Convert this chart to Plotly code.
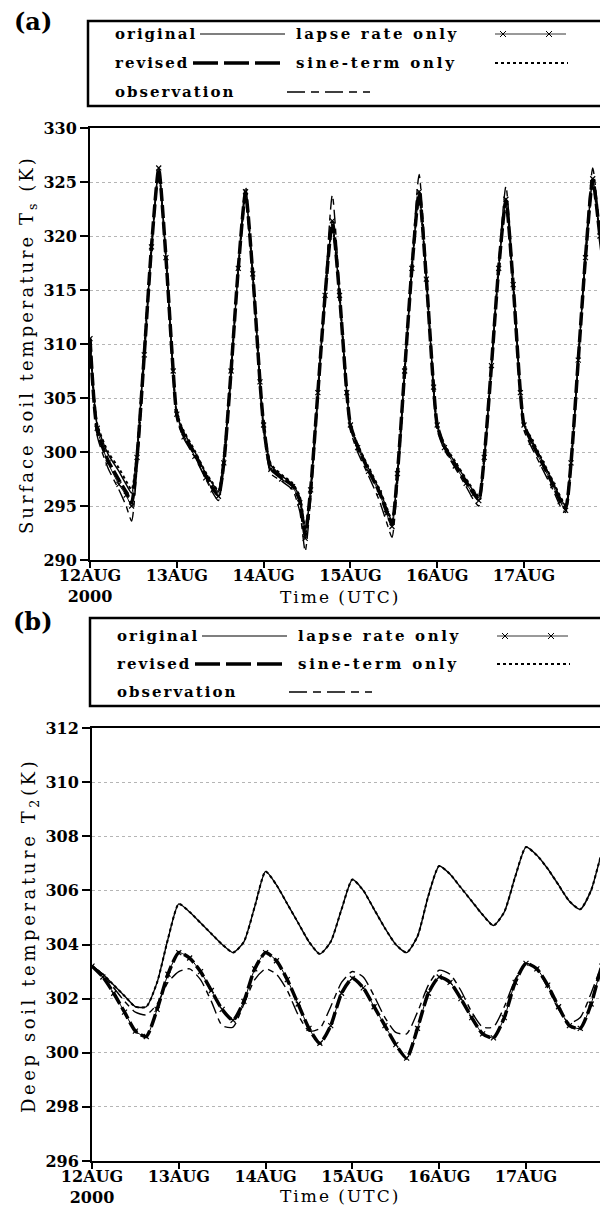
import plotly.graph_objects as go

W, H = 608, 1206
OFF = 8  # page offset of the figure (default body margin)
def px(x): return (x - OFF) / W
def py(y): return 1 - (y - OFF) / H

# ---------------- Panel (a): surface soil temperature (hours since 12AUG2000 00UTC)
hours_a = [0, 2, 5, 8, 10, 11.5, 13, 15, 17, 19, 21, 23,
           24, 26, 29, 32, 34, 35.5, 37, 39, 41, 43, 45, 47,
           48, 50, 53, 56, 58, 59.5, 61, 63, 65, 67, 69, 71,
           72, 74, 77, 80, 82, 83.5, 85, 87, 89, 91, 93, 95,
           96, 98, 101, 104, 106, 107.5, 109, 111, 113, 115, 117, 119,
           120, 122, 125, 128, 130, 131.5, 133, 135, 137, 139, 141, 143,
           146]

ts_original = [310.5, 302.5, 299.8, 298.2, 297.0, 296.2, 300.0, 309.5, 319.0, 326.0, 318.0, 307.5,
               303.5, 301.8, 300.0, 298.0, 297.0, 296.3, 299.5, 307.5, 317.0, 323.6, 316.5, 306.5,
               302.5, 298.8, 297.8, 297.0, 295.8, 292.8, 296.5, 305.5, 314.5, 321.0, 314.5, 305.5,
               302.5, 300.6, 298.5, 296.5, 294.8, 293.6, 298.0, 307.5, 317.0, 323.8, 316.0, 306.0,
               302.5, 300.6, 299.0, 297.4, 296.4, 295.8, 299.5, 308.0, 317.0, 323.0, 315.5, 305.5,
               302.5, 301.2, 299.2, 297.2, 295.8, 295.0, 299.0, 308.5, 318.0, 325.0, 320.0, 314.5,
               306.0]
ts_revised = [310.5, 302.0, 299.2, 297.4, 296.3, 295.3, 299.5, 309.0, 319.0, 326.2, 318.0, 307.5,
              303.5, 301.5, 299.8, 297.8, 296.6, 296.0, 299.0, 307.5, 317.0, 324.0, 316.5, 306.5,
              302.5, 298.5, 297.6, 296.9, 295.5, 292.3, 296.5, 305.5, 314.5, 321.3, 314.5, 305.5,
              302.5, 300.5, 298.3, 296.3, 294.5, 293.3, 298.0, 307.5, 317.0, 324.0, 316.0, 306.0,
              302.5, 300.5, 298.8, 297.2, 296.2, 295.6, 299.5, 308.0, 317.0, 323.3, 315.5, 305.5,
              302.5, 301.0, 299.0, 297.0, 295.5, 294.8, 299.0, 308.5, 318.0, 325.2, 320.0, 314.5,
              306.0]
ts_lapse = [310.5, 302.2, 299.0, 297.0, 296.0, 295.0, 299.5, 309.0, 319.0, 326.3, 318.0, 307.5,
            303.5, 301.4, 299.6, 297.6, 296.5, 295.9, 299.0, 307.5, 317.0, 324.1, 316.5, 306.5,
            302.5, 298.4, 297.5, 296.8, 295.3, 292.0, 296.5, 305.5, 314.5, 321.4, 314.5, 305.5,
            302.5, 300.4, 298.2, 296.2, 294.3, 293.1, 298.0, 307.5, 317.0, 324.1, 316.0, 306.0,
            302.5, 300.4, 298.7, 297.1, 296.1, 295.5, 299.5, 308.0, 317.0, 323.4, 315.5, 305.5,
            302.5, 300.9, 298.9, 296.9, 295.4, 294.6, 299.0, 308.5, 318.0, 325.3, 320.0, 314.5,
            306.0]
ts_sine = [310.5, 302.6, 300.0, 298.5, 297.3, 296.5, 300.0, 309.5, 319.0, 325.9, 318.0, 307.5,
           303.5, 301.9, 300.1, 298.1, 297.1, 296.4, 299.5, 307.5, 317.0, 323.5, 316.5, 306.5,
           302.5, 298.9, 297.9, 297.1, 295.9, 293.0, 296.5, 305.5, 314.5, 320.9, 314.5, 305.5,
           302.5, 300.7, 298.6, 296.6, 294.9, 293.7, 298.0, 307.5, 317.0, 323.7, 316.0, 306.0,
           302.5, 300.7, 299.1, 297.5, 296.5, 295.9, 299.5, 308.0, 317.0, 322.9, 315.5, 305.5,
           302.5, 301.3, 299.3, 297.3, 295.9, 295.1, 299.0, 308.5, 318.0, 324.9, 320.0, 314.5,
           306.0]
ts_obs = [310.0, 301.5, 298.5, 296.5, 295.0, 293.6, 298.5, 308.5, 318.5, 326.3, 318.0, 307.0,
          303.0, 301.2, 299.5, 297.5, 296.2, 295.5, 298.5, 307.0, 317.0, 324.6, 316.5, 306.0,
          302.0, 298.0, 297.3, 296.5, 294.5, 290.8, 295.5, 305.0, 315.0, 323.8, 315.0, 305.0,
          302.0, 300.0, 297.8, 295.5, 293.5, 292.1, 297.0, 307.0, 317.5, 325.7, 316.5, 305.5,
          302.0, 300.2, 298.5, 296.8, 295.6, 295.0, 299.0, 308.0, 317.5, 324.6, 316.0, 305.5,
          302.0, 300.5, 298.5, 296.5, 295.0, 294.4, 298.5, 308.5, 318.5, 326.3, 320.5, 314.5,
          306.0]

# ---------------- Panel (b): deep soil temperature
hours_b = [0, 3, 6, 9, 12, 15, 18, 21,
           24, 27, 30, 33, 36, 39, 42, 45,
           48, 51, 54, 57, 60, 63, 66, 69,
           72, 75, 78, 81, 84, 87, 90, 93,
           96, 99, 102, 105, 108, 111, 114, 117,
           120, 123, 126, 129, 132, 135, 138, 141, 144, 146]

t2_original = [303.2, 302.9, 302.5, 302.1, 301.7, 301.7, 302.6, 304.2,
               305.5, 305.2, 304.8, 304.4, 304.0, 303.7, 304.1, 305.4,
               306.7, 306.2, 305.5, 304.8, 304.1, 303.65, 304.1, 305.3,
               306.4, 306.0, 305.3, 304.6, 304.0, 303.7, 304.3, 305.8,
               306.9, 306.6, 306.1, 305.6, 305.1, 304.7, 305.2, 306.5,
               307.6, 307.3, 306.8, 306.2, 305.6, 305.3, 306.0, 307.4, 308.3, 308.6]
t2_sine = [303.2, 302.9, 302.5, 302.1, 301.7, 301.7, 302.6, 304.2,
           305.5, 305.2, 304.8, 304.4, 304.0, 303.7, 304.1, 305.4,
           306.7, 306.2, 305.5, 304.8, 304.1, 303.65, 304.1, 305.3,
           306.4, 306.0, 305.3, 304.6, 304.0, 303.7, 304.3, 305.8,
           306.9, 306.6, 306.1, 305.6, 305.1, 304.7, 305.2, 306.5,
           307.6, 307.3, 306.8, 306.2, 305.6, 305.3, 306.0, 307.4, 308.3, 308.6]
t2_revised = [303.2, 302.8, 302.2, 301.5, 300.8, 300.6, 301.6, 302.9,
              303.7, 303.5, 303.0, 302.3, 301.6, 301.2, 301.9, 303.1,
              303.7, 303.4, 302.7, 301.8, 300.9, 300.35, 301.0, 302.2,
              302.75, 302.4, 301.7, 301.0, 300.3, 299.8, 300.9, 302.2,
              302.8, 302.6, 302.0, 301.3, 300.7, 300.55, 301.3, 302.6,
              303.3, 303.1, 302.5, 301.7, 301.0, 300.9, 301.8, 303.2, 303.9, 304.1]
t2_lapse = [303.2, 302.8, 302.2, 301.5, 300.8, 300.6, 301.6, 302.9,
            303.7, 303.5, 303.0, 302.3, 301.6, 301.2, 301.9, 303.1,
            303.7, 303.4, 302.7, 301.8, 300.9, 300.35, 301.0, 302.2,
            302.75, 302.4, 301.7, 301.0, 300.3, 299.8, 300.9, 302.2,
            302.8, 302.6, 302.0, 301.3, 300.7, 300.55, 301.3, 302.6,
            303.3, 303.1, 302.5, 301.7, 301.0, 300.9, 301.8, 303.2, 303.9, 304.1]
t2_obs = [303.2, 302.9, 302.4, 301.9, 301.5, 301.4, 301.8, 302.6,
          303.0, 303.1, 302.7, 301.9, 301.0, 300.95, 301.8, 302.7,
          303.1, 302.9, 302.3, 301.4, 300.8, 300.9, 301.7, 302.6,
          303.0, 302.8, 302.1, 301.3, 300.75, 300.7, 301.5, 302.5,
          303.05, 302.9, 302.3, 301.5, 300.95, 300.95, 301.7, 302.7,
          303.3, 303.1, 302.4, 301.6, 301.1, 301.3, 302.2, 303.2, 303.6, 303.8]

tick_hours = [0, 24, 48, 72, 96, 120]
tick_labels = ["12AUG<br>2000", "13AUG", "14AUG", "15AUG", "16AUG", "17AUG"]
legend_names = ["original", "lapse rate only", "revised", "sine-term only", "observation"]

SERIF = "DejaVu Serif"
fig = go.Figure()

styles = {
    "observation": dict(color="black", width=1.4, dash="14px,5px,6px,5px", shape="spline", smoothing=0.6),
    "original": dict(color="black", width=1.4, shape="spline", smoothing=0.6),
    "sine": dict(color="black", width=2, dash="dot", shape="spline", smoothing=0.6),
    "lapse": dict(color="black", width=1, shape="spline", smoothing=0.6),
    "revised": dict(color="black", width=3.5, dash="13px,4px", shape="spline", smoothing=0.6),
}

def add_panel(hours, orig, sine, lapse, rev, obs, xa, ya):
    fig.add_trace(go.Scatter(x=hours, y=obs, mode="lines", line=styles["observation"],
                             xaxis=xa, yaxis=ya, showlegend=False))
    fig.add_trace(go.Scatter(x=hours, y=orig, mode="lines", line=styles["original"],
                             xaxis=xa, yaxis=ya, showlegend=False))
    fig.add_trace(go.Scatter(x=hours, y=sine, mode="lines", line=styles["sine"],
                             xaxis=xa, yaxis=ya, showlegend=False))
    fig.add_trace(go.Scatter(x=hours, y=lapse, mode="lines+markers", line=styles["lapse"],
                             marker=dict(symbol="x-thin", size=5, line=dict(width=1.2, color="black")),
                             xaxis=xa, yaxis=ya, showlegend=False))
    fig.add_trace(go.Scatter(x=hours, y=rev, mode="lines", line=styles["revised"],
                             xaxis=xa, yaxis=ya, showlegend=False))

add_panel(hours_a, ts_original, ts_sine, ts_lapse, ts_revised, ts_obs, "x", "y")
add_panel(hours_b, t2_original, t2_sine, t2_lapse, t2_revised, t2_obs, "x2", "y2")

PX_PER_HOUR = 86.8 / 24
xa_end = (W + OFF - 90) / PX_PER_HOUR
xb_end = (W + OFF - 92) / PX_PER_HOUR
axis_common = dict(showline=True, linecolor="black", linewidth=2, ticks="outside",
                   tickcolor="black", tickwidth=2, zeroline=False, automargin=False,
                   tickfont=dict(family=SERIF, size=16, color="black", weight="bold"))

fig.update_layout(
    width=W, height=H, margin=dict(l=0, r=0, t=0, b=0, autoexpand=False),
    paper_bgcolor="white", plot_bgcolor="white", showlegend=False,
    xaxis=dict(domain=[px(90), 1], range=[0, xa_end], tickvals=tick_hours, ticktext=tick_labels,
               mirror=True, showgrid=False, ticklen=6, ticklabelstandoff=-6, anchor="y", **axis_common),
    yaxis=dict(domain=[py(560), py(128)], range=[290, 330], dtick=5, tick0=290, ticklen=8,
               showgrid=True, gridcolor="#b5b5b5", griddash="dot", gridwidth=1, anchor="x",
               **axis_common),
    xaxis2=dict(domain=[px(92), 1], range=[0, xb_end], tickvals=tick_hours, ticktext=tick_labels,
                mirror=True, showgrid=False, ticklen=6, ticklabelstandoff=-6, anchor="y2", **axis_common),
    yaxis2=dict(domain=[py(1161), py(728)], range=[296, 312], dtick=2, tick0=296, ticklen=8,
                showgrid=True, gridcolor="#b5b5b5", griddash="dot", gridwidth=1, anchor="x2",
                **axis_common),
)

shapes = []
annotations = []

def txt(x, y, s, size=15, bold=False, anchor="left", angle=0, spacing=None):
    if spacing:
        s = f'<span style="letter-spacing:{spacing}px">{s}</span>'
    annotations.append(dict(x=px(x), y=py(y), xref="paper", yref="paper", text=s, showarrow=False,
                            xanchor=anchor, yanchor="middle", textangle=angle,
                            font=dict(family=SERIF, size=size, color="black",
                                      weight="bold" if bold else "normal")))

def seg(x0, x1, y, width=1.2, dash="solid"):
    shapes.append(dict(type="line", xref="paper", yref="paper", x0=px(x0), x1=px(x1), y0=py(y), y1=py(y),
                       line=dict(color="black", width=width, dash=dash)))

def cross(x, y, r=3):
    shapes.append(dict(type="path", xref="paper", yref="paper",
                       path=f"M {px(x-r)} {py(y-r)} L {px(x+r)} {py(y+r)} M {px(x-r)} {py(y+r)} L {px(x+r)} {py(y-r)}",
                       line=dict(color="black", width=1)))

def legend(label, label_y, top, bottom, rows, x0):
    txt(33, label_y, label, size=24, bold=True, anchor="center")
    shapes.append(dict(type="rect", xref="paper", yref="paper", x0=px(x0), x1=px(W + 30),
                       y0=py(bottom), y1=py(top), line=dict(color="black", width=2.5)))
    r1, r2, r3 = rows
    tx = x0 + 25
    sp = 2.0
    txt(tx, r1, legend_names[0], bold=True, spacing=sp)
    seg(x0 + 112, x0 + 197, r1, width=1.2)
    txt(x0 + 206, r1, legend_names[1], bold=True, spacing=sp + 0.6)
    seg(x0 + 407, x0 + 478, r1, width=0.8)
    cross(x0 + 415, r1)
    cross(x0 + 461, r1)
    txt(tx, r2, legend_names[2], bold=True, spacing=sp)
    seg(x0 + 105, x0 + 197, r2, width=3.5, dash="25px,6px")
    txt(x0 + 206, r2, legend_names[3], bold=True, spacing=sp + 0.8)
    seg(x0 + 407, x0 + 480, r2, width=2, dash="dot")
    txt(tx, r3, legend_names[4], bold=True, spacing=sp)
    seg(x0 + 199, x0 + 282, r3, width=1.4, dash="18px,6px,8px,6px")

legend("(a)", 22, 21, 106, (34, 63, 92), 88)
legend("(b)", 621, 618, 706, (636, 664, 692), 90)

txt(340, 597, "Time (UTC)", size=17, anchor="center", spacing=2)
txt(340, 1196, "Time (UTC)", size=17, anchor="center", spacing=2)
txt(28, 345, "Surface soil temperature T<sub>s</sub> (K)", size=18, anchor="center", angle=-90, spacing=3)
txt(30, 936, "Deep soil temperature T<sub>2</sub>(K)", size=18, anchor="center", angle=-90, spacing=3.6)

fig.update_layout(shapes=shapes, annotations=annotations)
fig.write_html("out.html")
